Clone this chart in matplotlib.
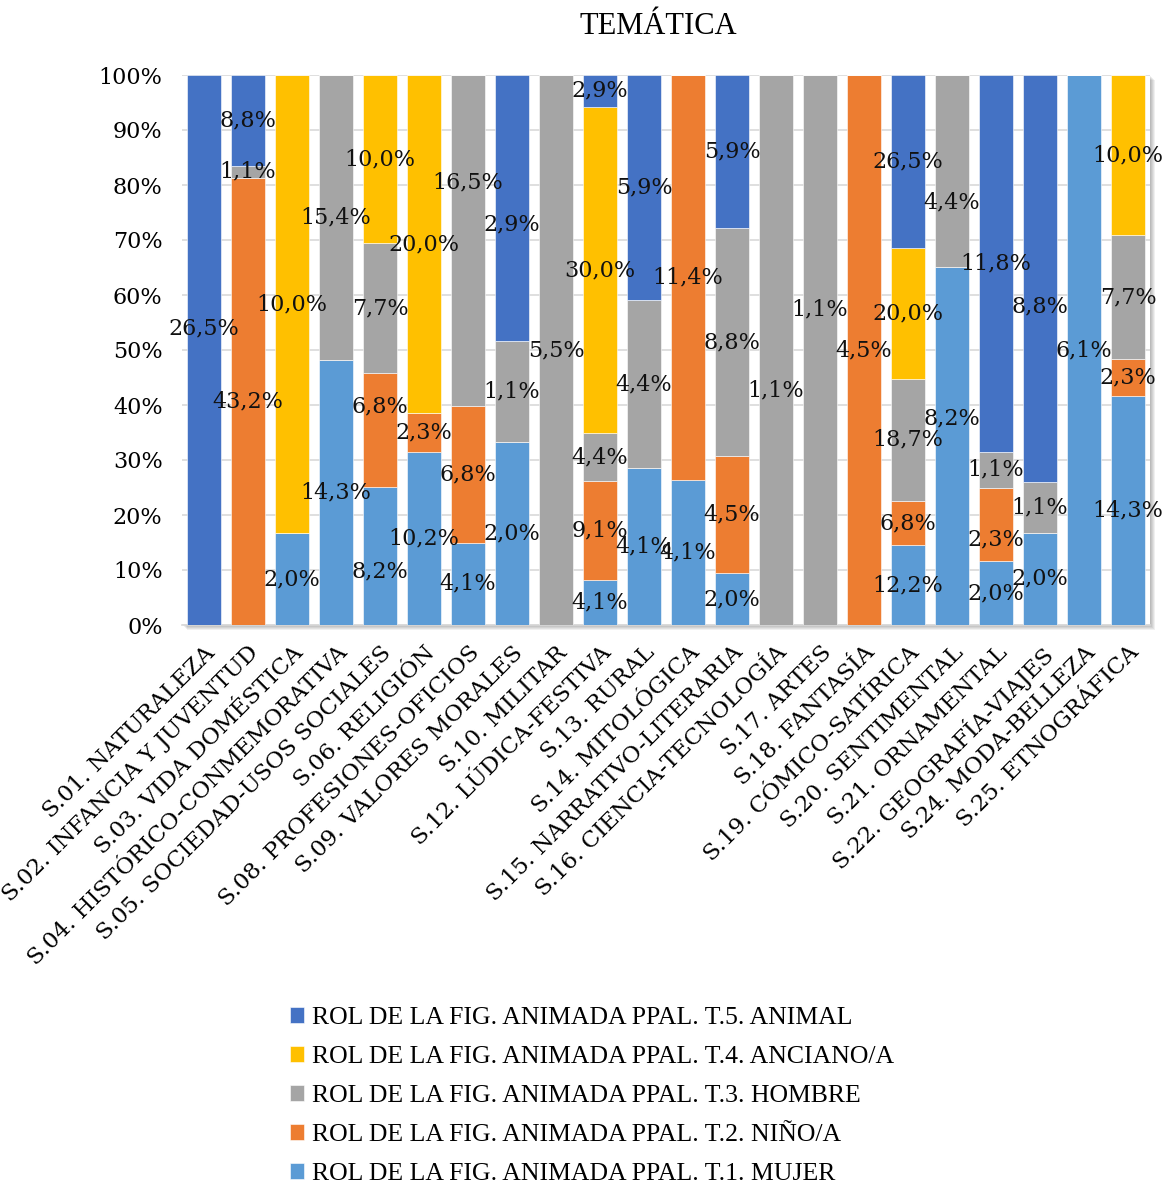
import matplotlib
matplotlib.use("Agg")
import matplotlib.pyplot as plt
from matplotlib.patches import Rectangle
import numpy as np

# categorias (temática)
categorias = ["S.01. NATURALEZA", "S.02. INFANCIA Y JUVENTUD", "S.03. VIDA DOMÉSTICA",
              "S.04. HISTÓRICO-CONMEMORATIVA", "S.05. SOCIEDAD-USOS SOCIALES", "S.06. RELIGIÓN",
              "S.08. PROFESIONES-OFICIOS", "S.09. VALORES MORALES", "S.10. MILITAR",
              "S.12. LÚDICA-FESTIVA", "S.13. RURAL", "S.14. MITOLÓGICA",
              "S.15. NARRATIVO-LITERARIA", "S.16. CIENCIA-TECNOLOGÍA", "S.17. ARTES",
              "S.18. FANTASÍA", "S.19. CÓMICO-SATÍRICA", "S.20. SENTIMENTAL",
              "S.21. ORNAMENTAL", "S.22. GEOGRAFÍA-VIAJES", "S.24. MODA-BELLEZA",
              "S.25. ETNOGRÁFICA"]

# porcentajes de cada serie (0 = celda vacía)
mujer   = [0, 0, 2.0, 14.3, 8.2, 10.2, 4.1, 2.0, 0, 4.1, 4.1, 4.1, 2.0, 0, 0, 0, 12.2, 8.2, 2.0, 2.0, 6.1, 14.3]
nino    = [0, 43.2, 0, 0, 6.8, 2.3, 6.8, 0, 0, 9.1, 0, 11.4, 4.5, 0, 0, 4.5, 6.8, 0, 2.3, 0, 0, 2.3]
hombre  = [0, 1.1, 0, 15.4, 7.7, 0, 16.5, 1.1, 5.5, 4.4, 4.4, 0, 8.8, 1.1, 1.1, 0, 18.7, 4.4, 1.1, 1.1, 0, 7.7]
anciano = [0, 0, 10.0, 0, 10.0, 20.0, 0, 0, 0, 30.0, 0, 0, 0, 0, 0, 0, 20.0, 0, 0, 0, 0, 10.0]
animal  = [26.5, 8.8, 0, 0, 0, 0, 0, 2.9, 0, 2.9, 5.9, 0, 5.9, 0, 0, 0, 26.5, 0, 11.8, 8.8, 0, 0]

series = [
    ("ROL DE LA FIG. ANIMADA PPAL. T.1. MUJER", mujer, "#5B9BD5"),
    ("ROL DE LA FIG. ANIMADA PPAL. T.2. NIÑO/A", nino, "#ED7D31"),
    ("ROL DE LA FIG. ANIMADA PPAL. T.3. HOMBRE", hombre, "#A5A5A5"),
    ("ROL DE LA FIG. ANIMADA PPAL. T.4. ANCIANO/A", anciano, "#FFC000"),
    ("ROL DE LA FIG. ANIMADA PPAL. T.5. ANIMAL", animal, "#4472C4"),
]

# etiquetas movidas a mano en el original (indice categoria, indice serie) -> altura en %
ajuste_etiquetas = {(0, 4): 54.0, (4, 1): 39.8, (4, 0): 9.8, (6, 2): 80.5, (7, 4): 72.8,
                    (13, 2): 42.7, (14, 2): 57.3, (17, 0): 37.5, (17, 2): 76.8,
                    (18, 1): 15.6, (19, 4): 58.0}

fig = plt.figure(figsize=(11.67, 11.92), dpi=100)
ax = fig.add_axes([182 / 1167, 1 - 625 / 1192, 968 / 1167, 550 / 1192])

# sombra del area de trazado
for k in range(1, 6):
    fig.patches.append(Rectangle((182 / 1167 + k * 0.0008, 1 - 625 / 1192 - k * 0.0008),
                                 968 / 1167, 550 / 1192, transform=fig.transFigure,
                                 facecolor="black", alpha=0.06, edgecolor="none", zorder=-1))

datos = np.array([s[1] for s in series], dtype=float)
totales = datos.sum(axis=0)
alturas = datos / totales * 100

x = np.arange(len(categorias))
base = np.zeros(len(categorias))
for j, (nombre, valores, color) in enumerate(series):
    ax.bar(x, alturas[j], bottom=base, width=0.77, color=color, label=nombre,
           edgecolor="white", linewidth=0.4, zorder=3)
    for i in range(len(categorias)):
        if valores[i] > 0:
            yl = ajuste_etiquetas.get((i, j), base[i] + alturas[j][i] / 2)
            ax.text(x[i], yl, ("%.1f%%" % valores[i]).replace(".", ","), ha="center", va="center",
                    fontsize=16, family="DejaVu Serif", color="#111111", zorder=5)
    base = base + alturas[j]

ax.set_xlim(-0.5, len(categorias) - 0.5)
ax.set_ylim(0, 100)
ax.set_yticks(np.arange(0, 101, 10))
ax.set_yticklabels(["%d%%" % v for v in range(0, 101, 10)], family="DejaVu Serif", fontsize=16)
ax.set_xticks(x)
ax.set_xticklabels(categorias, rotation=45, ha="right", rotation_mode="anchor",
                   family="DejaVu Serif", fontsize=16.5)
ax.tick_params(axis="both", length=0)
ax.tick_params(axis="y", pad=14)
ax.tick_params(axis="x", pad=12)
ax.grid(axis="y", color="#D9D9D9", linewidth=1.2, zorder=0)
ax.set_axisbelow(True)
for lado in ["top", "right", "left"]:
    ax.spines[lado].set_visible(False)
ax.spines["bottom"].set_color("#D9D9D9")
ax.spines["bottom"].set_linewidth(1.2)

fig.text(658 / 1167, 1 - 27 / 1192, "TEMÁTICA", ha="center", va="center",
         family="Liberation Serif", fontsize=22)

handles, labels = ax.get_legend_handles_labels()
fig.legend(handles[::-1], labels[::-1], loc="center left", bbox_to_anchor=(290 / 1167, 1 - 1096 / 1192),
           frameon=False, prop={"family": "Liberation Serif", "size": 18.5}, handlelength=0.55,
           handleheight=0.55, handletextpad=0.3, labelspacing=0.66, borderpad=0, borderaxespad=0)

fig.savefig("out.png", dpi=100)
